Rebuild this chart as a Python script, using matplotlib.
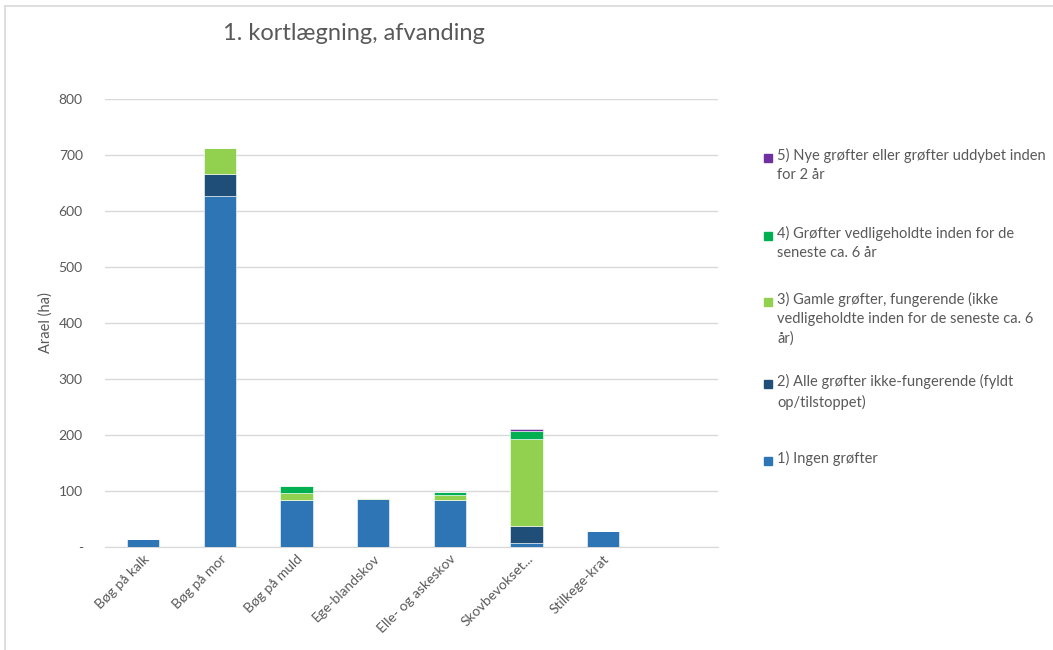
import numpy as np
import matplotlib
matplotlib.use("Agg")
import matplotlib.pyplot as plt
from matplotlib.patches import Rectangle
from matplotlib.lines import Line2D

plt.rcParams['font.family'] = ['Lato', 'DejaVu Sans']

# arealer pr. naturtype (ha)
kategorier = ["Bøg på kalk", "Bøg på mor", "Bøg på muld", "Ege-blandskov",
              "Elle- og askeskov", "Skovbevokset...", "Stilkege-krat", ""]
ingen = [15, 627, 84, 85, 84, 8, 28, 0]
ikke_fung = [0, 39, 0, 0, 0, 30, 0, 0]
gamle = [0, 46, 12, 2, 9, 154, 0, 0]
vedlige = [0, 0, 13, 0, 6, 16, 0, 0]
nye = [0, 0, 0, 0, 0, 2, 0, 0]

serier = [ingen, ikke_fung, gamle, vedlige, nye]
farver = ["#2E75B6", "#1F4E79", "#92D050", "#00B050", "#7030A0"]
navne = ["1) Ingen grøfter",
         "2) Alle grøfter ikke-fungerende (fyldt\nop/tilstoppet)",
         "3) Gamle grøfter, fungerende (ikke\nvedligeholdte inden for de seneste ca. 6\når)",
         "4) Grøfter vedligeholdte inden for de\nseneste ca. 6 år",
         "5) Nye grøfter eller grøfter uddybet inden\nfor 2 år"]
yticks = [0, 100, 200, 300, 400, 500, 600, 700, 800]
yticklabels = ["-", "100", "200", "300", "400", "500", "600", "700", "800"]

fig = plt.figure(figsize=(10.53, 6.5), dpi=100)
ax = fig.add_axes([105/1053, 1-547/650, 613/1053, 448/650])

x = np.arange(len(kategorier))
bund = np.zeros(len(kategorier))
for vals, c in zip(serier, farver):
    ax.bar(x, vals, 0.42, bottom=bund, color=c, edgecolor="white", linewidth=0.4, zorder=3)
    bund += np.array(vals)

ax.set_xlim(-0.5, len(kategorier) - 0.5)
ax.set_ylim(0, 800)
ax.set_yticks(yticks)
ax.set_yticklabels(yticklabels, color="#595959", fontsize=10)
ax.yaxis.grid(True, color="#D9D9D9", linewidth=1, zorder=0)
ax.tick_params(axis="y", length=0, pad=16)
ax.tick_params(axis="x", length=0, pad=4)
ax.set_xticks(x)
ax.set_xticklabels(kategorier, rotation=45, ha="right", rotation_mode="anchor",
                   color="#595959", fontsize=10)
for s in ["top", "right", "left"]:
    ax.spines[s].set_visible(False)
ax.spines["bottom"].set_color("#D9D9D9")
ax.set_ylabel("Arael (ha)", color="#595959", fontsize=10.5, labelpad=4)

fig.text(354/1053, 1-34/650, "1. kortlægning, afvanding", ha="center", va="center",
         fontsize=17, color="#595959")

# forklaring til højre, øverste serie først
legend_y = [158, 236, 302, 384, 461]
for navn, c, yp in zip(navne[::-1], farver[::-1], legend_y):
    fig.add_artist(Rectangle((764/1053, 1-(yp+4)/650), 8/1053, 8/650,
                             transform=fig.transFigure, color=c))
    fig.text(777/1053, 1-(yp-10)/650, navn, ha="left", va="top", fontsize=10.5,
             color="#595959", linespacing=1.45)

# ramme
fig.add_artist(Line2D([5/1053, 5/1053], [0, 1-6/650], transform=fig.transFigure,
                      color="#D9D9D9", linewidth=1.2))
fig.add_artist(Line2D([5/1053, 1], [1-6/650, 1-6/650], transform=fig.transFigure,
                      color="#D9D9D9", linewidth=1.2))

fig.savefig("out.png", dpi=100)
